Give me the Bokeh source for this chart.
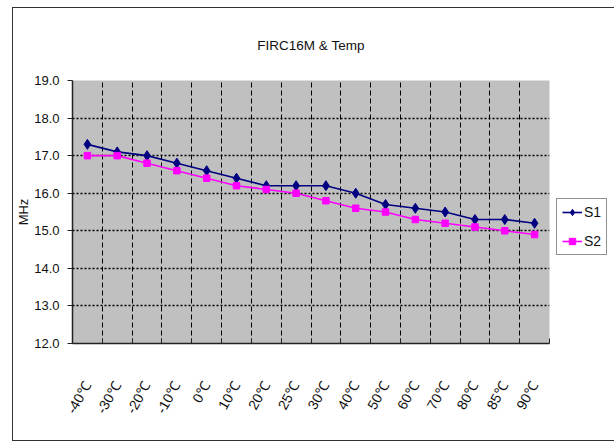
import numpy as np
from bokeh.plotting import figure
from bokeh.models import FixedTicker, Legend, LegendItem, Range1d
from bokeh.embed import file_html
from bokeh.resources import INLINE

categories = ["-40℃", "-30℃", "-20℃", "-10℃", "0℃", "10℃", "20℃", "25℃",
              "30℃", "40℃", "50℃", "60℃", "70℃", "80℃", "85℃", "90℃"]
s1 = [17.3, 17.1, 17.0, 16.8, 16.6, 16.4, 16.2, 16.2,
      16.2, 16.0, 15.7, 15.6, 15.5, 15.3, 15.3, 15.2]
s2 = [17.0, 17.0, 16.8, 16.6, 16.4, 16.2, 16.1, 16.0,
      15.8, 15.6, 15.5, 15.3, 15.2, 15.1, 15.0, 14.9]
y_ticks = [12.0, 13.0, 14.0, 15.0, 16.0, 17.0, 18.0, 19.0]

n = len(categories)
xc = [i + 0.5 for i in range(n)]
bounds = list(range(0, n + 1))

FONT = "Liberation Sans"
FW, FH = 477, 263

p = figure(frame_width=FW, frame_height=FH, output_backend="svg",
           toolbar_location=None,
           x_range=Range1d(0, n), y_range=Range1d(12, 19),
           min_border_left=56, min_border_right=10, min_border_top=72,
           min_border_bottom=97, title="FIRC16M & Temp")
p.styles = {"border": "1px solid #333333", "margin-left": "12px",
            "margin-top": "7px"}
p.background_fill_color = "#C0C0C0"
p.border_fill_color = "white"
p.outline_line_color = None

p.title.align = "center"
p.title.text_font = FONT
p.title.text_font_size = "13.5px"
p.title.text_font_style = "normal"
p.title.text_color = "#111111"
p.title.standoff = 55

# grids
p.xgrid.ticker = FixedTicker(ticks=bounds[1:])
p.xgrid.grid_line_color = "black"
p.xgrid.grid_line_dash = "5 3"
p.xgrid.grid_line_width = 1
p.ygrid.ticker = FixedTicker(ticks=y_ticks)
p.ygrid.grid_line_color = "black"
p.ygrid.grid_line_dash = "2 2"
p.ygrid.grid_line_width = 1.3

# x axis
xa = p.xaxis[0]
xa.ticker = FixedTicker(ticks=xc, minor_ticks=bounds)
xa.major_label_overrides = {x: c for x, c in zip(xc, categories)}
xa.major_label_orientation = 1.05
xa.major_tick_in = 0
xa.major_tick_out = 0
xa.minor_tick_in = 5
xa.minor_tick_out = 0
xa.minor_tick_line_color = "#222222"
xa.axis_line_color = "#222222"
xa.axis_line_width = 1.5
xa.major_label_text_font = FONT
xa.major_label_text_font_size = "14px"
xa.major_label_text_color = "#111111"
xa.major_label_standoff = 39

# y axis
ya = p.yaxis[0]
ya.ticker = FixedTicker(ticks=y_ticks)
ya.major_label_overrides = {v: f"{v:.1f}" for v in y_ticks}
ya.minor_tick_line_color = None
ya.major_tick_in = 0
ya.major_tick_out = 5
ya.major_tick_line_color = "#222222"
ya.axis_line_color = "#222222"
ya.axis_line_width = 1.5
ya.major_label_standoff = 8
ya.major_label_text_font = FONT
ya.major_label_text_font_size = "13px"
ya.major_label_text_color = "#111111"
ya.axis_label = "MHz"
ya.axis_label_text_font = FONT
ya.axis_label_text_font_size = "13px"
ya.axis_label_text_font_style = "normal"
ya.axis_label_text_color = "#111111"
ya.axis_label_standoff = 0

l1 = p.line(xc, s1, line_color="#000080", line_width=1.6)
m1 = p.scatter(xc, s1, marker="diamond", size=10, fill_color="#000080",
               line_color="#000080")
l2 = p.line(xc, s2, line_color="#FF00FF", line_width=1.6)
m2 = p.scatter(xc, s2, marker="square", size=6.5, fill_color="#FF00FF",
               line_color="#FF00FF")

legend = Legend(items=[LegendItem(label="S1", renderers=[l1, m1]),
                       LegendItem(label="S2", renderers=[l2, m2])],
                location=(7, 88))
legend.border_line_color = "#222222"
legend.border_line_width = 1
legend.background_fill_color = "white"
legend.label_text_font = FONT
legend.label_text_font_size = "14px"
legend.label_text_color = "#111111"
legend.glyph_width = 20
legend.glyph_height = 16
legend.label_standoff = 2
legend.label_width = 16
legend.padding = 5
legend.spacing = 13
legend.margin = 0
p.add_layout(legend, "right")

open("out.html", "w").write(file_html(p, INLINE))
